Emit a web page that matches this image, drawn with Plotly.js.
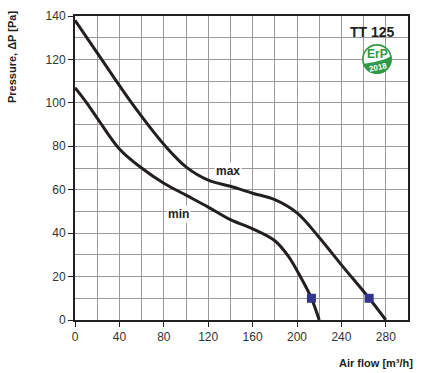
<!DOCTYPE html>
<html><head><meta charset="utf-8">
<script src="https://cdn.plot.ly/plotly-3.0.1.min.js"></script>
<style>html,body{margin:0;padding:0;background:#fff}#chart{width:422px;height:373px}</style>
</head><body><div id="chart"></div>
<script>
// Data
const maxFlow = [0, 24, 51, 80.7, 100, 120, 140, 160, 180, 200, 220, 240, 265, 280];
const maxPressure = [138, 120, 100, 80.5, 70.5, 64.4, 61.6, 58.4, 55.4, 49.3, 38, 25.4, 10, 0];
const minFlow = [0, 10.5, 22, 40, 60, 80, 100, 120, 140, 160, 180, 192, 203, 213, 220];
const minPressure = [107, 100, 91.5, 78.8, 70, 63, 57.5, 52, 46.2, 42, 36.5, 29.5, 20, 10, 0];
const pointFlow = [213, 265];
const pointPressure = [10, 10];
const xTicks = [0, 40, 80, 120, 160, 200, 240, 280];
const yTicks = [0, 20, 40, 60, 80, 100, 120, 140];

// layout geometry (pixels)
const W = 422, H = 373, L = 75, R = 14, T = 16, B = 53;
const X0 = 0, X1 = 300, Y0 = 0, Y1 = 140;
const pw = W - L - R, ph = H - T - B;
function dx(px) { return X0 + (px - L) / pw * (X1 - X0); }
function dy(py) { return Y0 + (H - B - py) / ph * (Y1 - Y0); }
function paperX(px) { return (px - L) / pw; }
function paperY(py) { return (H - B - py) / ph; }

const lineStyle = {color: '#231f20', width: 3, shape: 'spline', smoothing: 1};
const traces = [
  {x: maxFlow, y: maxPressure, mode: 'lines', line: lineStyle, hoverinfo: 'skip'},
  {x: minFlow, y: minPressure, mode: 'lines', line: lineStyle, hoverinfo: 'skip'},
  {x: pointFlow, y: pointPressure, mode: 'markers', marker: {symbol: 'square', size: 9, color: '#34348f'}, hoverinfo: 'skip'}
];

const green = '#2f9a46';
const cx = 377, cy = 59, r = 15, ri = 13.3;
function P(px, py) { return dx(px) + ',' + dy(py); }
const shapes = [
  {type: 'circle', xref: 'x', yref: 'y', x0: dx(cx - r), x1: dx(cx + r), y0: dy(cy + r), y1: dy(cy - r), fillcolor: green, line: {width: 0}, layer: 'above'},
  {type: 'circle', xref: 'x', yref: 'y', x0: dx(cx - ri), x1: dx(cx + ri), y0: dy(cy + ri), y1: dy(cy - ri), fillcolor: '#ffffff', line: {width: 0}, layer: 'above'},
  {type: 'path', xref: 'x', yref: 'y', layer: 'above', fillcolor: green, line: {width: 0},
   path: 'M' + P(363, 64) + ' C' + P(371, 62.5) + ' ' + P(384, 61) + ' ' + P(391, 56) +
         ' C' + P(392, 67) + ' ' + P(386, 74) + ' ' + P(377, 74) +
         ' C' + P(370, 74) + ' ' + P(365, 70) + ' ' + P(363, 64) + ' Z'}
];

const fam = 'Liberation Sans, Arial, sans-serif';
const ink = '#231f20';
const annotations = [
  {text: 'Pressure, ΔP [Pa]', xref: 'paper', yref: 'paper', x: paperX(12), y: paperY(57), xanchor: 'center', yanchor: 'middle', textangle: -90, showarrow: false, font: {family: fam, size: 11, color: ink, weight: 'bold'}},
  {text: 'Air flow [m³/h]', xref: 'paper', yref: 'paper', x: paperX(376), y: paperY(363), xanchor: 'center', yanchor: 'middle', showarrow: false, font: {family: fam, size: 11, color: ink, weight: 'bold'}},
  {text: 'TT 125', xref: 'paper', yref: 'paper', x: paperX(372), y: paperY(32), xanchor: 'center', yanchor: 'middle', showarrow: false, font: {family: fam, size: 14, color: ink, weight: 'bold'}},
  {text: 'max', x: dx(228), y: dy(170.5), xanchor: 'center', yanchor: 'middle', showarrow: false, bgcolor: '#ffffff', borderpad: 1, font: {family: fam, size: 12, color: ink, weight: 'bold'}},
  {text: 'min', x: dx(178), y: dy(214), xanchor: 'center', yanchor: 'middle', showarrow: false, bgcolor: '#ffffff', borderpad: 1, font: {family: fam, size: 12, color: ink, weight: 'bold'}},
  {text: 'ErP', x: dx(377.5), y: dy(53.5), xanchor: 'center', yanchor: 'middle', showarrow: false, font: {family: fam, size: 12, color: green, weight: 'bold'}},
  {text: '2018', x: dx(378), y: dy(67.5), xanchor: 'center', yanchor: 'middle', showarrow: false, textangle: -12, font: {family: 'Liberation Sans Narrow, Liberation Sans, Arial, sans-serif', size: 8, color: '#ffffff', weight: 'bold'}}
];

const axisCommon = {
  showline: true, mirror: true, linecolor: ink, linewidth: 2,
  ticks: 'outside', ticklen: 5, tickcolor: ink, tickwidth: 1,
  showgrid: true, gridcolor: '#9a9a9a', gridwidth: 1, zeroline: false,
  tickfont: {family: fam, size: 12, color: '#333333'},
  fixedrange: true
};
const layout = {
  width: W, height: H,
  margin: {l: L, r: R, t: T, b: B, pad: 0},
  paper_bgcolor: '#ffffff', plot_bgcolor: '#ffffff',
  showlegend: false,
  xaxis: Object.assign({}, axisCommon, {range: [X0, X1], tickmode: 'array', tickvals: xTicks, ticktext: xTicks.map(String),
    minor: {dtick: 20, tick0: 0, showgrid: true, gridcolor: '#9a9a9a', gridwidth: 1, ticks: ''}}),
  yaxis: Object.assign({}, axisCommon, {range: [Y0, Y1], tickmode: 'array', tickvals: yTicks, ticktext: yTicks.map(String),
    minor: {dtick: 10, tick0: 0, showgrid: true, gridcolor: '#9a9a9a', gridwidth: 1, ticks: ''}}),
  shapes: shapes,
  annotations: annotations
};
Plotly.newPlot('chart', traces, layout, {staticPlot: true, displayModeBar: false});
</script>
</body></html>
